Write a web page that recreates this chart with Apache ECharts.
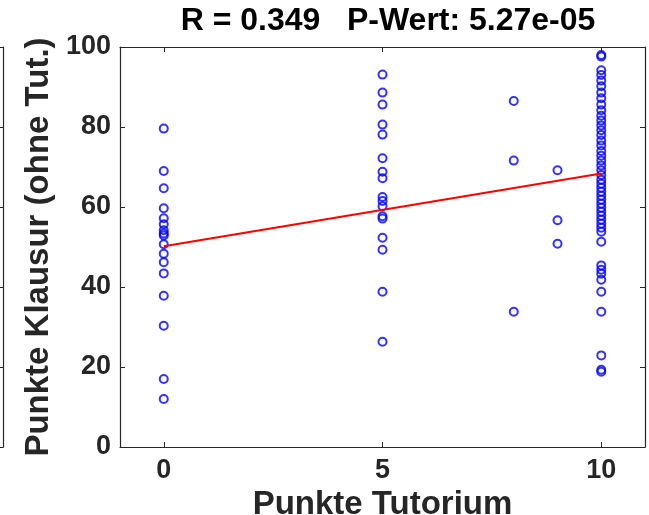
<!DOCTYPE html>
<html>
<head>
<meta charset="utf-8">
<script src="https://cdn.jsdelivr.net/npm/echarts@6/dist/echarts.min.js"></script>
<style>
    html, body { margin: 0; padding: 0; background: #fff; }
    #chart { width: 649px; height: 515px; }
</style>
</head>
<body>
<div id="chart"></div>
<script>
// Punkte Tutorium (x) vs. Punkte Klausur ohne Tutorium (y)
const tut0 = [79.6, 69.0, 64.7, 59.7, 57.2, 55.7, 54.2, 53.4, 52.9, 50.7, 48.3, 46.2, 43.4, 37.8, 30.3, 17.0, 12.0]
const tut5 = [93.1, 88.6, 85.6, 80.6, 78.1, 72.2, 68.8, 67.2, 62.5, 61.5, 60.2, 57.7, 57.1, 52.3, 49.3, 38.8, 26.3]
const tut8 = [86.5, 71.6, 33.8]
const tut9 = [69.2, 56.7, 50.8]
const tut10 = [98.0, 97.6, 94.2, 93.0, 91.6, 90.2, 88.6, 87.2, 85.6, 84.2, 82.8, 81.6, 80.4, 79.2,
    78.0, 76.6, 75.4, 74.0, 72.8, 71.6, 70.4, 69.2, 68.0, 66.8, 65.8, 64.8, 63.8, 62.8, 61.8,
    60.8, 59.8, 58.8, 57.8, 56.8, 55.8, 54.8, 53.8, 51.3, 45.4, 44.3, 43.3, 41.8, 38.8, 33.8,
    22.9, 19.3, 18.8]
const fitX = [0, 10]
const fitY = [50.2, 68.4]
const xTicks = [0, 5, 10]
const titleText = 'R = 0.349   P-Wert: 5.27e-05'

const groups = [[0, tut0], [5, tut5], [8, tut8], [9, tut9], [10, tut10]]
const points = []
groups.forEach(([x, ys]) => ys.forEach(y => points.push([x, y])))

const font = 'Liberation Sans, Arial, Helvetica, sans-serif'
const axisColor = '#262626'
const tick = { show: true, inside: true, length: 5, lineStyle: { color: axisColor, width: 1 } }
const line = { show: true, onZero: false, lineStyle: { color: axisColor, width: 1.2 } }

const chart = echarts.init(document.getElementById('chart'))
chart.setOption({
    animation: false,
    title: {
        text: titleText,
        left: 383,
        textAlign: 'center',
        top: 0,
        textStyle: { fontFamily: font, fontSize: 32, fontWeight: 'bold', color: '#000' }
    },
    grid: [
        { left: 120, right: 4, top: 47, bottom: 68, outerBoundsMode: 'none' },
        // rechter Rand des Nachbar-Plots
        { left: 0, width: 3, top: 47, bottom: 68, outerBoundsMode: 'none' }
    ],
    xAxis: [
        {
            type: 'value', gridIndex: 0, min: -1, max: 11,
            name: 'Punkte Tutorium', nameLocation: 'middle', nameGap: 34,
            nameTextStyle: { fontFamily: font, fontSize: 33, fontWeight: 'bold', color: axisColor },
            axisLine: line,
            axisTick: Object.assign({}, tick, { customValues: xTicks }),
            axisLabel: { customValues: xTicks, margin: 10, fontFamily: font, fontSize: 27, fontWeight: 'bold', color: axisColor },
            splitLine: { show: false }
        },
        {
            type: 'value', gridIndex: 0, min: -1, max: 11, position: 'top',
            axisLine: line,
            axisTick: Object.assign({}, tick, { customValues: xTicks }),
            axisLabel: { show: false },
            splitLine: { show: false }
        },
        {
            type: 'value', gridIndex: 1, min: 0, max: 10, position: 'bottom',
            axisLine: line, axisTick: { show: false }, axisLabel: { show: false }, splitLine: { show: false }
        },
        {
            type: 'value', gridIndex: 1, min: 0, max: 10, position: 'top',
            axisLine: line, axisTick: { show: false }, axisLabel: { show: false }, splitLine: { show: false }
        }
    ],
    yAxis: [
        {
            type: 'value', gridIndex: 0, min: 0, max: 100, interval: 20,
            name: 'Punkte Klausur (ohne Tut.)', nameLocation: 'middle', nameGap: 64,
            nameTextStyle: { fontFamily: font, fontSize: 33, fontWeight: 'bold', color: axisColor },
            axisLine: line, axisTick: tick,
            axisLabel: { margin: 9, fontFamily: font, fontSize: 27, fontWeight: 'bold', color: axisColor },
            splitLine: { show: false }
        },
        {
            type: 'value', gridIndex: 0, min: 0, max: 100, interval: 20, position: 'right',
            axisLine: line, axisTick: tick, axisLabel: { show: false }, splitLine: { show: false }
        },
        {
            type: 'value', gridIndex: 1, min: 0, max: 100, interval: 20, position: 'right',
            axisLine: line, axisTick: tick, axisLabel: { show: false }, splitLine: { show: false }
        }
    ],
    series: [
        {
            type: 'scatter',
            xAxisIndex: 0, yAxisIndex: 0,
            data: points,
            symbol: 'circle',
            symbolSize: 8,
            itemStyle: { color: 'rgba(0,0,0,0)', borderColor: '#0000ff', borderWidth: 2 }
        },
        {
            type: 'line',
            xAxisIndex: 0, yAxisIndex: 0,
            data: fitX.map((x, i) => [x, fitY[i]]),
            showSymbol: false,
            lineStyle: { color: '#ff0000', width: 2 }
        }
    ]
})
</script>
</body>
</html>
